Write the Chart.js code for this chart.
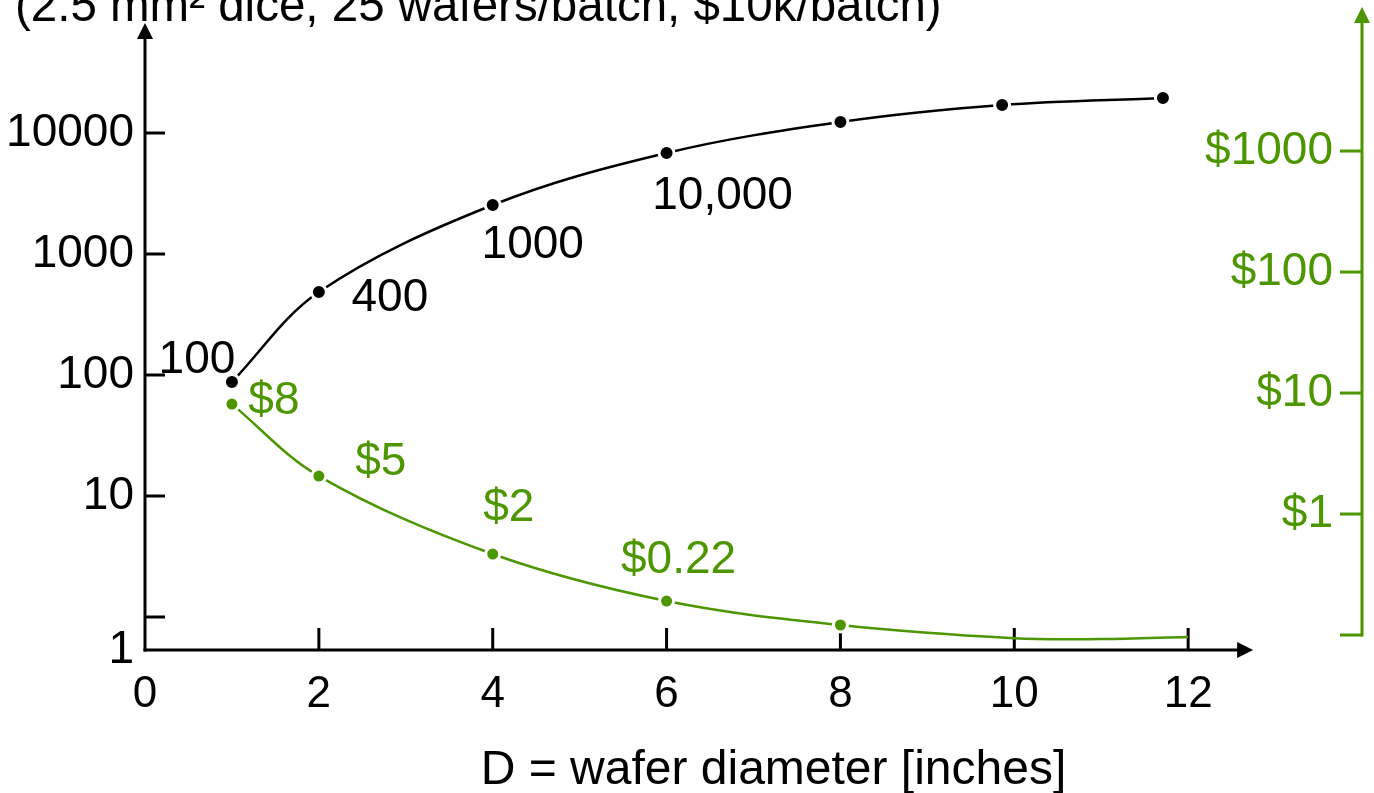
<!DOCTYPE html>
<html>
<head>
<meta charset="utf-8">
<script src="https://cdn.jsdelivr.net/npm/chart.js@4"></script>
<style>
  html, body { margin: 0; padding: 0; background: #fff; }
  canvas { display: block; }
</style>
</head>
<body>
<canvas id="waferChart" width="1374" height="793"></canvas>
<script>
// dice per batch (black, left axis)
const diameters = [1, 2, 4, 6, 8, 9.86, 11.71];
const diesPerBatch = [87.5, 485, 2540, 6840, 12330, 17030, 19460];
const dieLabels = ['100', '400', '1000', '10,000'];

// cost per die (green, right axis)
const costDiameters = [1, 2, 4, 6, 8, 10, 11, 12];
const costPerDie = [8.1, 2.06, 0.467, 0.191, 0.121, 0.094, 0.0925, 0.0963];
const costLabels = ['$8', '$5', '$2', '$0.22'];

// tick labels
const xTicks = [0, 2, 4, 6, 8, 10, 12];
const countTicks = [1, 10, 100, 1000, 10000];
const countTickLabels = ['1', '10', '100', '1000', '10000'];
const costTicks = [1, 10, 100, 1000];
const costTickLabels = ['$1', '$10', '$100', '$1000'];

const chartTitle = '(2.5 mm² dice, 25 wafers/batch, $10k/batch)';
const xTitle = 'D = wafer diameter [inches]';

const GREEN = 'rgb(76, 150, 0)';
const FONT = "'Liberation Sans', Arial, sans-serif";

function arrowHead(ctx, tipX, tipY, dir) {
    // dir: 'up' or 'right'
    ctx.beginPath();
    if (dir === 'up') {
        ctx.moveTo(tipX, tipY);
        ctx.lineTo(tipX - 8, tipY + 16);
        ctx.lineTo(tipX + 8, tipY + 16);
    } else {
        ctx.moveTo(tipX, tipY);
        ctx.lineTo(tipX - 16, tipY - 8);
        ctx.lineTo(tipX - 16, tipY + 8);
    }
    ctx.closePath();
    ctx.fill();
}

function seg(ctx, x1, y1, x2, y2) {
    ctx.beginPath();
    ctx.moveTo(x1, y1);
    ctx.lineTo(x2, y2);
    ctx.stroke();
}

// hand drawn looking axes with arrows and inward ticks
const axesPlugin = {
    id: 'axes',
    beforeDatasetsDraw(chart) {
        const {ctx, chartArea: a, scales} = chart;
        const x = scales.x, y = scales.y, y2 = scales.y2;
        ctx.save();
        ctx.lineWidth = 3;

        ctx.strokeStyle = '#000';
        ctx.fillStyle = '#000';
        seg(ctx, a.left, a.bottom + 1.5, a.left, a.top + 14);
        arrowHead(ctx, a.left, a.top, 'up');
        const xEnd = x.getPixelForValue(12) + 65;
        seg(ctx, a.left - 1.5, a.bottom, xEnd - 14, a.bottom);
        arrowHead(ctx, xEnd, a.bottom, 'right');

        countTicks.forEach(v => {
            const py = y.getPixelForValue(v);
            seg(ctx, a.left, py, a.left + 20, py);
        });
        xTicks.slice(1).forEach(v => {
            const px = x.getPixelForValue(v);
            seg(ctx, px, a.bottom, px, a.bottom - 22);
        });

        ctx.strokeStyle = GREEN;
        ctx.fillStyle = GREEN;
        const foot = y2.getPixelForValue(0.1);
        seg(ctx, a.right, foot + 1.5, a.right, a.top - 4);
        arrowHead(ctx, a.right, a.top - 16, 'up');
        seg(ctx, a.right - 22, foot, a.right, foot);
        costTicks.forEach(v => {
            const py = y2.getPixelForValue(v);
            seg(ctx, a.right - 22, py, a.right, py);
        });
        ctx.restore();
    }
};

// value notes next to the points, plus the two titles
const notesPlugin = {
    id: 'notes',
    afterDatasetsDraw(chart) {
        const {ctx, scales} = chart;
        const dieOffsets = [[-35, -22], [71, 6], [40, 40], [56, 43]];
        const costOffsets = [[42, -3], [62, -14], [16, -46], [12, -41]];
        ctx.save();
        ctx.font = '46px ' + FONT;
        ctx.textAlign = 'center';
        ctx.textBaseline = 'middle';

        ctx.fillStyle = '#000';
        chart.getDatasetMeta(0).data.slice(0, dieLabels.length).forEach((pt, i) => {
            ctx.fillText(dieLabels[i], pt.x + dieOffsets[i][0], pt.y + dieOffsets[i][1]);
        });
        ctx.fillStyle = GREEN;
        chart.getDatasetMeta(1).data.slice(0, costLabels.length).forEach((pt, i) => {
            ctx.fillText(costLabels[i], pt.x + costOffsets[i][0], pt.y + costOffsets[i][1]);
        });

        // titles (the top one is cut off by the page edge in the original)
        ctx.fillStyle = '#000';
        ctx.textBaseline = 'alphabetic';
        ctx.font = '48px ' + FONT;
        ctx.fillText(xTitle, scales.x.getPixelForValue(7.23), 784);
        ctx.font = '47.5px ' + FONT;
        ctx.textAlign = 'left';
        ctx.fillText(chartTitle, 15, 21);
        ctx.restore();
    }
};

const ctx = document.getElementById('waferChart');
new Chart(ctx, {
    type: 'line',
    data: {
        datasets: [{
            label: 'dice per batch',
            data: diameters.map((d, i) => ({x: d, y: diesPerBatch[i]})),
            yAxisID: 'y',
            borderColor: '#000',
            borderWidth: 2.5,
            tension: 0.35,
            pointRadius: 7.5,
            pointBorderWidth: 3,
            pointBorderColor: '#fff',
            pointBackgroundColor: '#000'
        }, {
            label: 'cost per die',
            data: costDiameters.map((d, i) => ({x: d, y: costPerDie[i]})),
            yAxisID: 'y2',
            borderColor: GREEN,
            borderWidth: 2.5,
            tension: 0.35,
            pointRadius: c => c.dataIndex < costLabels.length + 1 ? 7 : 0,
            pointBorderWidth: 3,
            pointBorderColor: '#fff',
            pointBackgroundColor: GREEN
        }]
    },
    options: {
        responsive: false,
        animation: false,
        layout: {
            padding: {left: 8, top: 23, right: 0, bottom: 0}
        },
        plugins: {
            legend: {display: false},
            tooltip: {enabled: false},
            title: {display: false}
        },
        scales: {
            x: {
                type: 'linear',
                min: 0,
                max: 14,
                grid: {display: false, drawTicks: false},
                border: {display: false},
                afterBuildTicks: s => { s.ticks = xTicks.map(v => ({value: v})); },
                afterFit: s => { s.height = 143; },
                ticks: {
                    color: '#000',
                    padding: 18,
                    autoSkip: false,
                    maxRotation: 0,
                    font: {family: FONT, size: 44}
                }
            },
            y: {
                type: 'logarithmic',
                position: 'left',
                min: 0.5337,
                max: 81100,
                grid: {display: false, drawTicks: true, tickLength: 11},
                border: {display: false},
                // the "1" label sits at the foot of the axis in the original
                afterBuildTicks: s => {
                    s.ticks = countTicks.map(v => ({value: v === 1 ? s.min : v}));
                },
                afterFit: s => { s.width = 137; },
                ticks: {
                    color: '#000',
                    padding: 0,
                    autoSkip: false,
                    font: {family: FONT, size: 46, lineHeight: 1},
                    callback: (v, i) => countTickLabels[i]
                }
            },
            y2: {
                type: 'logarithmic',
                position: 'right',
                min: 0.0752,
                max: 11430,
                grid: {display: false, drawTicks: false},
                border: {display: false},
                afterBuildTicks: s => { s.ticks = costTicks.map(v => ({value: v})); },
                afterFit: s => { s.width = 12; },
                ticks: {
                    color: GREEN,
                    mirror: true,
                    padding: -29,
                    autoSkip: false,
                    font: {family: FONT, size: 46, lineHeight: 1},
                    callback: (v, i) => costTickLabels[i]
                }
            }
        }
    },
    plugins: [axesPlugin, notesPlugin]
});
</script>
</body>
</html>
